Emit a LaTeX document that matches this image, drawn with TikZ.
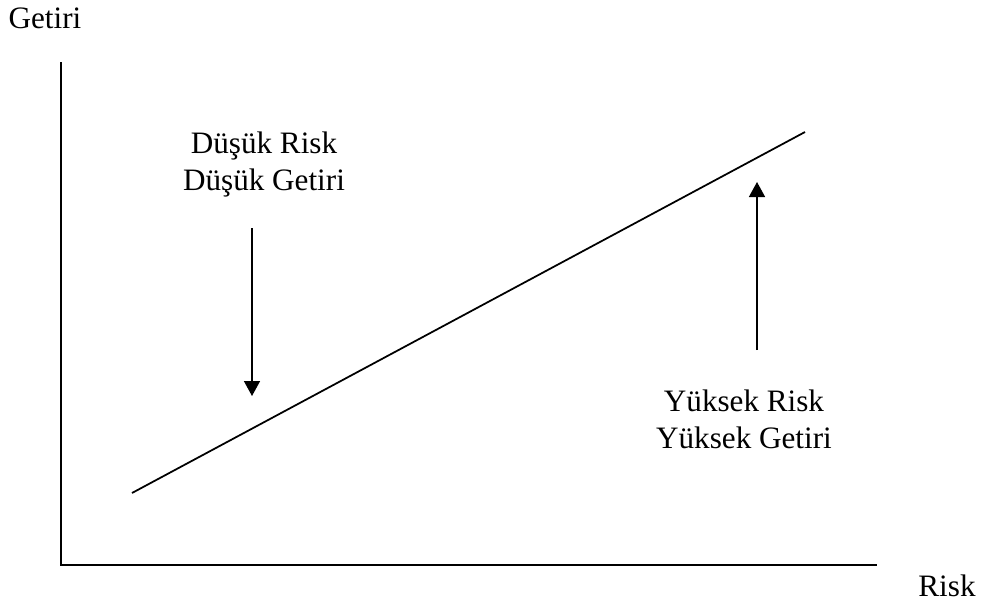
\documentclass[tikz,border=0pt]{standalone}
\usepackage{fontspec}
\setmainfont{Liberation Serif}
\usetikzlibrary{arrows.meta}

\begin{document}
\begin{tikzpicture}[x=0.03cm, y=-0.03cm,
    axis/.style={line width=1.6pt},
    label/.style={inner sep=0pt, font=\fontsize{26.6}{31.3}\selectfont, align=center},
    pointer/.style={line width=1.3pt, -{Triangle[length=0.45cm, width=0.48cm]}}]
    \useasboundingbox (0, 0) rectangle (982, 611);

    % Eksenler
    \coordinate (top) at (61, 62);
    \coordinate (origin) at (61, 565);
    \coordinate (right) at (877, 565);
    \draw[axis] (top) -- (origin) -- (right);
    \node[label, anchor=base] (getiri) at (45, 28) {Getiri};
    \node[label, anchor=base] (risk) at (947, 596) {Risk};

    % Risk-getiri dogrusu
    \coordinate (low) at (132, 493);
    \coordinate (high) at (805, 132);
    \draw[line width=1.5pt] (low) -- (high);

    % Etiketler
    \node[label, anchor=base] (dusuk) at (264, 190) {Düşük Risk\\Düşük Getiri};
    \node[label, anchor=base] (yuksek) at (744, 448) {Yüksek Risk\\Yüksek Getiri};

    % Oklar
    \coordinate (downstart) at (252, 228);
    \coordinate (downend) at (252, 396);
    \coordinate (upstart) at (757, 350);
    \coordinate (upend) at (757, 182);
    \draw[pointer] (downstart) -- (downend);
    \draw[pointer] (upstart) -- (upend);
\end{tikzpicture}
\end{document}
